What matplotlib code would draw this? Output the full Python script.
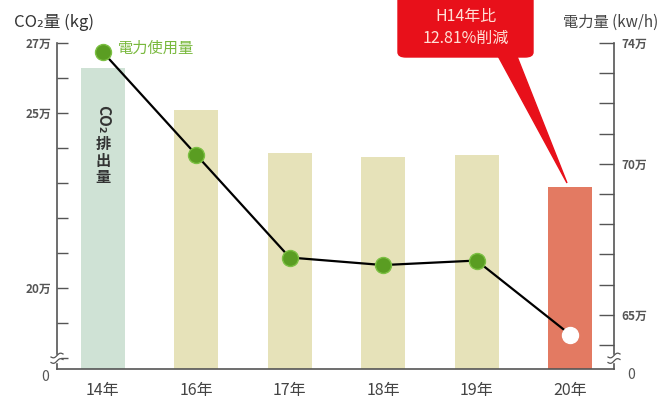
import matplotlib
matplotlib.use("Agg")
import matplotlib.pyplot as plt
import numpy as np
from matplotlib.patches import FancyBboxPatch, Polygon, Rectangle

plt.rcParams['font.family'] = ['Noto Sans CJK JP', 'DejaVu Sans']

years = ['14年', '16年', '17年', '18年', '19年', '20年']
co2 = [26.3, 25.1, 23.85, 23.75, 23.8, 22.9]          # 万kg
power = [73.7, 70.3, 66.9, 66.65, 66.8, 64.35]        # 万kWh
bar_colors = ['#cfe2d5', '#e6e2b9', '#e6e2b9', '#e6e2b9', '#e6e2b9', '#e37a62']
left_ticks = [20, 25, 27]
left_labels = ['20万', '25万', '27万']
right_ticks = [65, 70, 74]
right_labels = ['65万', '70万', '74万']

W, H = 661, 400
fig = plt.figure(figsize=(W / 100, H / 100), dpi=100)

def fx(x):
    return x / W

def fy(y):
    return 1 - y / H

ax = fig.add_axes([fx(57), fy(369), fx(614) - fx(57), fy(43) - fy(369)])
ax2 = ax.twinx()

x = np.arange(len(years))
ax.bar(x, co2, width=0.47, color=bar_colors, zorder=1)
ax.set_xlim(-0.49, 5.47)
ax.set_ylim(17.686, 27)
ax2.set_ylim(63.21, 74)

ax2.plot(x, power, color='black', lw=1.6, zorder=2)
ax2.plot(x[:-1], power[:-1], 'o', ms=11.5, mfc='#5a9d22', mec='#7cc043', mew=1, zorder=3, ls='none')
ax2.plot(x[-1:], power[-1:], 'o', ms=11.5, mfc='white', mec='white', zorder=3, ls='none')

grey = '#555555'
for a in (ax, ax2):
    a.spines['top'].set_visible(False)
ax.spines['right'].set_visible(False)
ax2.spines['left'].set_visible(False)
ax2.spines['bottom'].set_visible(False)
for a, s in ((ax, 'left'), (ax, 'bottom'), (ax2, 'right')):
    a.spines[s].set_color(grey)
    a.spines[s].set_linewidth(1.2)

ax.set_yticks(left_ticks)
ax.set_yticklabels(left_labels, fontweight='bold')
ax.set_yticks(range(18, 27), minor=True)
ax.tick_params(axis='y', which='both', direction='in', length=8, width=1, color=grey,
               labelsize=8.5, labelcolor='#555555', pad=4)
ax.tick_params(axis='y', which='minor', labelleft=False)

ax2.set_yticks(right_ticks)
ax2.set_yticklabels(right_labels, fontweight='bold')
ax2.set_yticks(range(64, 74), minor=True)
ax2.tick_params(axis='y', which='both', direction='in', length=11, width=1, color=grey,
                labelsize=8.5, labelcolor='#555555', pad=5)
ax2.tick_params(axis='y', which='minor', labelright=False)

ax.set_xticks(x)
ax.set_xticklabels(years)
ax.tick_params(axis='x', length=0, labelsize=11.5, labelcolor='#444444', pad=9)

# zero labels
fig.text(fx(45), fy(377), '0', ha='center', va='center', fontsize=10, color='#555555')
fig.text(fx(631), fy(375), '0', ha='center', va='center', fontsize=10, color='#555555')

# axis titles
fig.text(fx(14), fy(22), 'CO₂量 (kg)', ha='left', va='center', fontsize=12, color='#333333')
fig.text(fx(658), fy(22), '電力量 (kw/h)', ha='right', va='center', fontsize=11, color='#444444')

# break marks
for xb in (57, 614):
    fig.patches.append(Rectangle((fx(xb - 3), fy(362)), fx(6), fy(355) - fy(362),
                                 transform=fig.transFigure, color='white', zorder=5))
    t = np.linspace(-6, 6, 30)
    for yo in (355.5, 361):
        yy = yo - 1.5 * np.sin(t / 6 * np.pi) - t * 0.25
        fig.lines.append(plt.Line2D(fx(xb + t), fy(yy), transform=fig.transFigure,
                                    color=grey, lw=0.9, zorder=6))

# legend label
fig.text(fx(118), fy(48), '電力使用量', ha='left', va='center', fontsize=11, color='#78b83c')

# vertical label in first bar
fig.text(fx(103), fy(119), 'CO₂', ha='center', va='center', fontsize=11, rotation=-90,
         color='#333333', fontweight='bold')
for ch, yy in (('排', 144), ('出', 161), ('量', 177)):
    fig.text(fx(103), fy(yy), ch, ha='center', va='center', fontsize=11, color='#333333',
             fontweight='bold')

# callout
red = '#e8101a'
pointer = Polygon([(fx(497), fy(54)), (fx(516), fy(54)), (fx(567), fy(183))],
                  closed=True, transform=fig.transFigure, color=red, zorder=7)
fig.patches.append(pointer)
box = FancyBboxPatch((fx(398), fy(57)), fx(533) - fx(398), fy(-6) - fy(57),
                     boxstyle='round,pad=0,rounding_size=0.012', transform=fig.transFigure,
                     color=red, zorder=8)
fig.patches.append(box)
fig.text(fx(466), fy(16), 'H14年比', ha='center', va='center', fontsize=11.5, color='#ffe0d6', zorder=9)
fig.text(fx(466), fy(38), '12.81%削減', ha='center', va='center', fontsize=11.5, color='#ffe0d6', zorder=9)

fig.savefig('out.png', dpi=100)
